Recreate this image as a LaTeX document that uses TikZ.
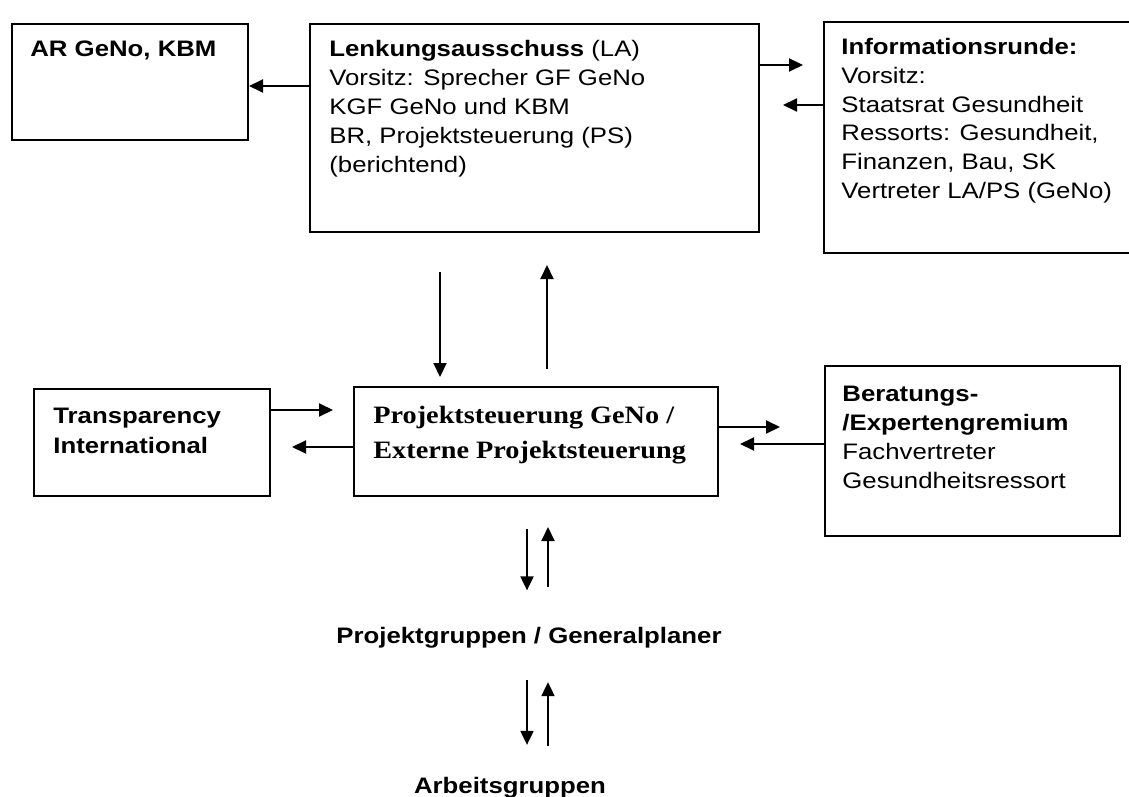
\documentclass[tikz,border=0pt]{standalone}
\usepackage{fontspec}
\setmainfont{Liberation Sans}[FakeStretch=1.15]
\newfontfamily\timesfont{Liberation Serif}[FakeStretch=1.13]
\usetikzlibrary{arrows.meta}

\begin{document}
\begin{tikzpicture}[x=0.5pt, y=-0.5pt,
  box/.style={draw, line width=1pt, anchor=north west, inner sep=0pt},
  txt/.style={anchor=base west, align=left, inner sep=0pt, font=\fontsize{11.2}{14.5}\selectfont},
  arr/.style={line width=1pt, -{Triangle[length=7pt,width=6.5pt]}}]

\useasboundingbox (0,0) rectangle (1129,797);

\path
(11,23) node[box, minimum width=118pt, minimum height=58pt] (ar) {}
(309,23) node[box, minimum width=224.5pt, minimum height=104pt] (la) {}
(823,21) node[box, minimum width=160pt, minimum height=115.5pt] (info) {}
(33,388) node[box, minimum width=118pt, minimum height=53.5pt] (ti) {}
(353,386) node[box, minimum width=182pt, minimum height=54.5pt] (ps) {}
(824,365) node[box, minimum width=147.5pt, minimum height=85pt] (bg) {};

% texts, placed at the baseline of their last line
\path
(30,57) node[txt] (artext) {\textbf{AR GeNo, KBM}}
(329,172) node[txt] (latext) {\textbf{Lenkungsausschuss} (LA)\\Vorsitz: Sprecher GF GeNo\\KGF GeNo und KBM\\BR, Projektsteuerung (PS)\\(berichtend)}
(841,198) node[txt, font=\fontsize{11.2}{14.3}\selectfont] (infotext) {\textbf{Informationsrunde:}\\Vorsitz:\\Staatsrat Gesundheit\\Ressorts: Gesundheit,\\Finanzen, Bau, SK\\Vertreter LA/PS (GeNo)}
(53,453) node[txt, font=\fontsize{11.2}{15}\selectfont] (titext) {\textbf{Transparency}\\\textbf{International}}
(373,458) node[txt, font=\timesfont\bfseries\fontsize{12.5}{17.5}\selectfont] (pstext) {Projektsteuerung GeNo /\\Externe Projektsteuerung}
(842,488) node[txt] (bgtext) {\textbf{Beratungs-}\\\textbf{/Expertengremium}\\Fachvertreter\\Gesundheitsressort}
(529,643) node[anchor=base, inner sep=0pt, font=\bfseries\fontsize{11.2}{14}\selectfont] (pg) {Projektgruppen / Generalplaner}
(510,793) node[anchor=base, inner sep=0pt, font=\bfseries\fontsize{11.2}{14}\selectfont] (ag) {Arbeitsgruppen};

% top row
\draw[arr] (la.west |- 0,86) -- (ar.east |- 0,86);
\draw[arr, shorten >=10pt] (la.east |- 0,65) -- (info.west |- 0,65);
\draw[arr, shorten >=11.5pt] (info.west |- 0,105) -- (la.east |- 0,105);

% LA <-> PS
\draw[arr, shorten <=19.5pt, shorten >=4.5pt] (la.south -| 440,0) -- (ps.north -| 440,0);
\draw[arr, shorten <=8.5pt, shorten >=16pt] (ps.north -| 547,0) -- (la.south -| 547,0);

% middle row
\draw[arr, shorten >=10pt] (ti.east |- 0,410) -- (ps.west |- 0,410);
\draw[arr, shorten >=10.5pt] (ps.west |- 0,447) -- (ti.east |- 0,447);
\draw[arr, shorten >=22pt] (ps.east |- 0,427) -- (bg.west |- 0,427);
\draw[arr, shorten >=10.5pt] (bg.west |- 0,444) -- (ps.east |- 0,444);

% down to the groups
\draw[arr, shorten <=16pt, shorten >=18pt] (ps.south -| 527,0) -- (pg.north -| 527,0);
\draw[arr, shorten <=19.5pt, shorten >=15pt] (pg.north -| 548,0) -- (ps.south -| 548,0);
\draw[arr, shorten <=16pt, shorten >=15.75pt] (pg.south -| 527,0) -- (ag.north -| 527,0);
\draw[arr, shorten <=15.25pt, shorten >=17pt] (ag.north -| 548,0) -- (pg.south -| 548,0);

\end{tikzpicture}
\end{document}
